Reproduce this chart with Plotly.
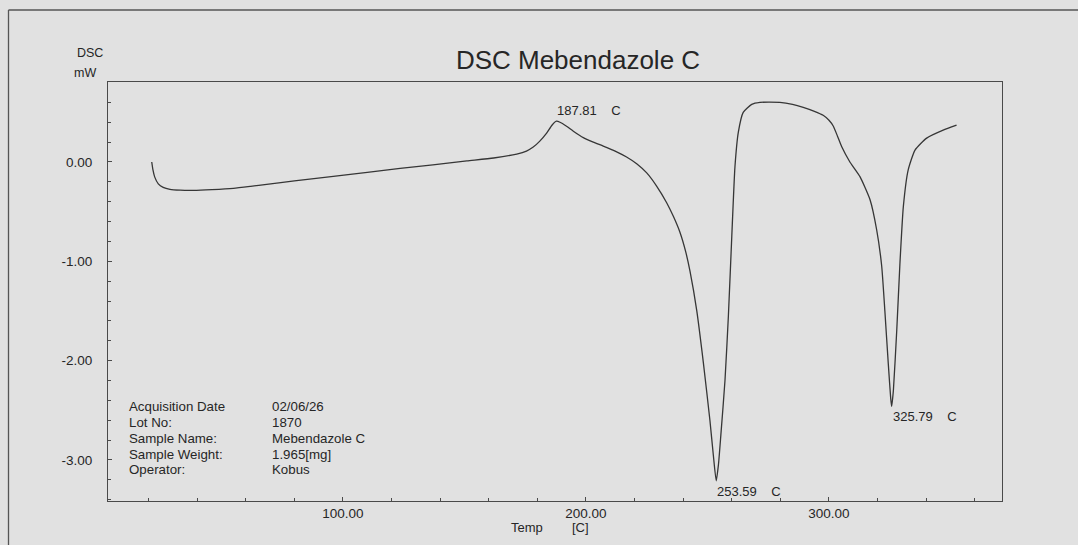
import plotly.graph_objects as go

# ---- data ----
temp = [21.3, 21.8, 22.5, 24, 26, 28.8, 33, 38.4, 46, 54.9, 62, 68.6, 80, 96, 110,
        123.5, 137, 151, 162, 171.5, 175.5, 178.3, 181, 183.8, 186, 187.81, 189.3,
        192, 194.8, 198.9, 203, 207.1, 212, 216.7, 221, 225, 229, 233.2, 236, 238.7,
        241, 242.8, 245.6, 248.3, 251, 252.4, 253.59, 254.5, 255.5, 257.2, 258.6, 260,
        261.3, 262.7, 264.7, 268.2, 271.6, 279.8, 285, 289.4, 294, 297.6, 300, 301.8,
        303.5, 305.2, 308.6, 312.8, 316.9, 319.6, 321.7, 323, 324.4, 325.4, 325.79,
        326.5, 327.9, 329.2, 330.6, 332.6, 335.4, 340.2, 347, 352.5]
dsc = [0.0, -0.08, -0.15, -0.22, -0.255, -0.275, -0.283, -0.285, -0.278, -0.265, -0.245,
       -0.225, -0.19, -0.145, -0.105, -0.065, -0.03, 0.01, 0.04, 0.08, 0.11, 0.15, 0.21,
       0.29, 0.37, 0.41, 0.40, 0.36, 0.31, 0.245, 0.2, 0.16, 0.11, 0.05, -0.02, -0.11,
       -0.24, -0.41, -0.55, -0.71, -0.9, -1.1, -1.5, -2.02, -2.60, -2.95, -3.21,
       -3.05, -2.75, -2.2, -1.55, -0.75, -0.05, 0.3, 0.5, 0.58, 0.60, 0.60, 0.58, 0.55,
       0.51, 0.47, 0.42, 0.36, 0.26, 0.155, 0.0, -0.15, -0.38, -0.68, -1.05, -1.5,
       -2.03, -2.38, -2.46, -2.3, -1.69, -1.02, -0.45, -0.08, 0.12, 0.24, 0.32, 0.37]

peak_temps = [187.81, 253.59, 325.79]
peak_values = [0.41, -3.21, -2.46]
peak_kinds = ["max", "min", "min"]

x_tick_vals = [100, 200, 300]
x_tick_text = ["100.00", "200.00", "300.00"]
y_tick_vals = [0, -1, -2, -3]
y_tick_text = ["0.00", "-1.00", "-2.00", "-3.00"]

info_labels = ["Acquisition Date", "Lot No:", "Sample Name:", "Sample Weight:", "Operator:"]
info_values = ["02/06/26", "1870", "Mebendazole C", "1.965[mg]", "Kobus"]

title_text = "DSC Mebendazole C"

# ---- layout geometry (pixels) ----
W, H = 1078, 545
L, R, T, B = 108, 1002, 82, 501
pw, ph = R - L, B - T


def px(x):
    return (x - L) / pw


def py(y):
    return (B - y) / ph


BG = "#e1e1e1"
INK = "#363636"
TXT = "#262626"
FONT = "Liberation Sans, Arial, sans-serif"

fig = go.Figure()
fig.add_trace(go.Scatter(x=temp, y=dsc, mode="lines",
                         line=dict(color=INK, width=1.3, shape="spline", smoothing=0.5),
                         hoverinfo="x+y", showlegend=False))

annotations = []
nb = "\u00a0" * 4
for t, v, k in zip(peak_temps, peak_values, peak_kinds):
    annotations.append(dict(x=t, y=v, xref="x", yref="y", text=f"{t:.2f}{nb}C",
                            showarrow=False, xanchor="left",
                            yanchor="bottom" if k == "max" else "top",
                            yshift=1 if k == "max" else -1, xshift=-1,
                            font=dict(family=FONT, size=13, color=TXT)))

row_y = [406, 422, 438, 454, 469]
for lab, val, yy in zip(info_labels, info_values, row_y):
    annotations.append(dict(x=px(127), y=py(yy), xref="paper", yref="paper", text=lab,
                            showarrow=False, xanchor="left", yanchor="middle",
                            font=dict(family=FONT, size=13.3, color=TXT)))
    annotations.append(dict(x=px(270), y=py(yy), xref="paper", yref="paper", text=val,
                            showarrow=False, xanchor="left", yanchor="middle",
                            font=dict(family=FONT, size=13.3, color=TXT)))

# axis titles
annotations += [
    dict(x=px(89.5), y=py(53), xref="paper", yref="paper", text="DSC", showarrow=False,
         xanchor="center", yanchor="middle", font=dict(family=FONT, size=12.5, color=TXT)),
    dict(x=px(84.5), y=py(73), xref="paper", yref="paper", text="mW", showarrow=False,
         xanchor="center", yanchor="middle", font=dict(family=FONT, size=12.5, color=TXT)),
    dict(x=px(526.5), y=py(527), xref="paper", yref="paper", text="Temp", showarrow=False,
         xanchor="center", yanchor="middle", font=dict(family=FONT, size=13, color=TXT)),
    dict(x=px(580), y=py(527), xref="paper", yref="paper", text="[C]", showarrow=False,
         xanchor="center", yanchor="middle", font=dict(family=FONT, size=13, color=TXT)),
]

shapes = [
    # outer page frame (left and top edges)
    dict(type="line", xref="paper", yref="paper", x0=px(8.5), x1=px(W + 5),
         y0=py(10), y1=py(10), line=dict(color="#555555", width=1.3)),
    dict(type="line", xref="paper", yref="paper", x0=px(8.5), x1=px(8.5),
         y0=py(10), y1=py(H + 5), line=dict(color="#555555", width=1.3)),
]

axis_common = dict(showgrid=False, zeroline=False, showline=True, mirror=True,
                   linecolor="#4a4a4a", linewidth=1.2, ticks="inside", ticklen=4,
                   tickcolor="#4a4a4a", tickfont=dict(family=FONT, size=13.5, color=TXT))

fig.update_layout(
    width=W, height=H,
    margin=dict(l=L, r=W - R, t=T, b=H - B, pad=0),
    paper_bgcolor=BG, plot_bgcolor=BG,
    title=dict(text=title_text, x=578 / W, xanchor="center", y=1 - 60 / H, yanchor="middle",
               font=dict(family=FONT, size=26, color="#262626")),
    xaxis=dict(range=[3.3, 371.2], tickvals=x_tick_vals, ticktext=x_tick_text,
               minor=dict(dtick=20, tick0=0, ticks="inside", ticklen=2.5, tickcolor="#4a4a4a"),
               **axis_common),
    yaxis=dict(range=[-3.413, 0.805], tickvals=y_tick_vals, ticktext=y_tick_text,
               minor=dict(dtick=0.2, tick0=0, ticks="inside", ticklen=2.5, tickcolor="#4a4a4a"),
               ticklabelstandoff=12, **axis_common),
    annotations=annotations,
    shapes=shapes,
)

fig.write_html("out.html")
